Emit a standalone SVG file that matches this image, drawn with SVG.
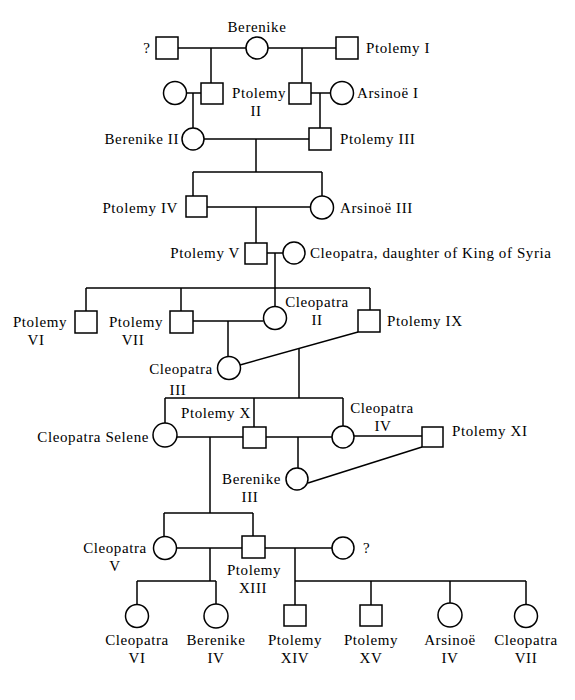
<svg xmlns="http://www.w3.org/2000/svg" width="575" height="700" viewBox="0 0 575 700">
<style>
.n{fill:#fff;stroke:#000;stroke-width:1.5}
.c line{stroke:#000;stroke-width:1.5}
text{font-family:"Liberation Serif","Times New Roman",serif;font-size:15px;fill:#000;letter-spacing:0.6px}
.m{text-anchor:middle}
.e{text-anchor:end}
</style>
<rect width="575" height="700" fill="#fff"/>
<g id="connectors" class="c">
<line x1="178" y1="48" x2="246" y2="48"/>
<line x1="268" y1="48" x2="336" y2="48"/>
<line x1="211" y1="48" x2="211" y2="83"/>
<line x1="302" y1="48" x2="302" y2="83"/>
<line x1="186.5" y1="93" x2="201" y2="93"/>
<line x1="193" y1="93" x2="193" y2="128"/>
<line x1="311" y1="93" x2="330.5" y2="93"/>
<line x1="320" y1="93" x2="320" y2="128"/>
<line x1="204" y1="139" x2="309" y2="139"/>
<line x1="256" y1="139" x2="256" y2="172"/>
<line x1="193" y1="172" x2="322" y2="172"/>
<line x1="193" y1="172" x2="193" y2="196"/>
<line x1="322" y1="172" x2="322" y2="196"/>
<line x1="207" y1="207" x2="310.5" y2="207"/>
<line x1="256" y1="207" x2="256" y2="243"/>
<line x1="267" y1="253" x2="283" y2="253"/>
<line x1="275" y1="253" x2="275" y2="306.5"/>
<line x1="86" y1="288" x2="370" y2="288"/>
<line x1="86" y1="288" x2="86" y2="311"/>
<line x1="181" y1="288" x2="181" y2="311"/>
<line x1="370" y1="288" x2="370" y2="310"/>
<line x1="193" y1="321" x2="263.5" y2="321"/>
<line x1="228" y1="321" x2="228" y2="356.5"/>
<line x1="240" y1="365" x2="358" y2="332"/>
<line x1="299" y1="349" x2="299" y2="398"/>
<line x1="165" y1="398" x2="343" y2="398"/>
<line x1="165" y1="398" x2="165" y2="423"/>
<line x1="254" y1="398" x2="254" y2="427"/>
<line x1="343" y1="398" x2="343" y2="426"/>
<line x1="177" y1="437" x2="243" y2="437"/>
<line x1="210" y1="437" x2="210" y2="513"/>
<line x1="266" y1="437" x2="332" y2="437"/>
<line x1="298" y1="437" x2="298" y2="468"/>
<line x1="354" y1="436" x2="422" y2="436"/>
<line x1="308" y1="483" x2="422" y2="447"/>
<line x1="164" y1="513" x2="253" y2="513"/>
<line x1="164" y1="513" x2="164" y2="536.5"/>
<line x1="253" y1="513" x2="253" y2="536"/>
<line x1="176.5" y1="548" x2="242" y2="548"/>
<line x1="210" y1="548" x2="210" y2="581"/>
<line x1="137" y1="581" x2="216" y2="581"/>
<line x1="137" y1="581" x2="137" y2="604.5"/>
<line x1="216" y1="581" x2="216" y2="604"/>
<line x1="265" y1="548" x2="332" y2="548"/>
<line x1="295" y1="548" x2="295" y2="581"/>
<line x1="295" y1="581" x2="526" y2="581"/>
<line x1="295" y1="581" x2="295" y2="605"/>
<line x1="371" y1="581" x2="371" y2="605"/>
<line x1="450" y1="581" x2="450" y2="603"/>
<line x1="526" y1="581" x2="526" y2="604.5"/>
</g>
<g id="unknown1"><rect class="n" x="156" y="37" width="22" height="22"/><text x="147" y="53" class="m">?</text></g>
<g id="berenike1"><circle class="n" cx="257" cy="48" r="11"/><text x="257" y="32" class="m">Berenike</text></g>
<g id="ptolemy1"><rect class="n" x="336" y="37" width="22" height="22"/><text x="366" y="53">Ptolemy I</text></g>
<g id="wife-left"><circle class="n" cx="175" cy="93" r="11.5"/></g>
<g id="son-left"><rect class="n" x="201" y="83" width="22" height="21"/></g>
<g id="ptolemy2"><rect class="n" x="289" y="83" width="22" height="21"/><text x="232" y="98">Ptolemy</text><text x="256" y="116" class="m">II</text></g>
<g id="arsinoe1"><circle class="n" cx="342" cy="93" r="11.5"/><text x="357" y="98">Arsinoë I</text></g>
<g id="berenike2"><circle class="n" cx="193" cy="139" r="11"/><text x="179" y="144" class="e">Berenike II</text></g>
<g id="ptolemy3"><rect class="n" x="309" y="128" width="22" height="22"/><text x="340" y="144">Ptolemy III</text></g>
<g id="ptolemy4"><rect class="n" x="186" y="196" width="21" height="21"/><text x="178" y="213" class="e">Ptolemy IV</text></g>
<g id="arsinoe3"><circle class="n" cx="322" cy="207.5" r="11.5"/><text x="340" y="213">Arsinoë III</text></g>
<g id="ptolemy5"><rect class="n" x="245" y="243" width="22" height="21"/><text x="240" y="258" class="e">Ptolemy V</text></g>
<g id="cleopatra1"><circle class="n" cx="294" cy="253" r="11"/><text x="310" y="258">Cleopatra, daughter of King of Syria</text></g>
<g id="ptolemy6"><rect class="n" x="75" y="311" width="22" height="22"/><text x="40" y="327" class="m">Ptolemy</text><text x="36" y="345" class="m">VI</text></g>
<g id="ptolemy7"><rect class="n" x="170" y="311" width="23" height="22"/><text x="136" y="327" class="m">Ptolemy</text><text x="133" y="345" class="m">VII</text></g>
<g id="cleopatra2"><circle class="n" cx="275" cy="318" r="11.5"/><text x="317" y="307" class="m">Cleopatra</text><text x="317" y="325" class="m">II</text></g>
<g id="ptolemy9"><rect class="n" x="358" y="310" width="22" height="22"/><text x="387" y="326">Ptolemy IX</text></g>
<g id="cleopatra3"><circle class="n" cx="229" cy="368" r="11.5"/><text x="181" y="374" class="m">Cleopatra</text><text x="178" y="395" class="m">III</text></g>
<g id="cleopatra-selene"><circle class="n" cx="165" cy="435" r="12"/><text x="149" y="442" class="e">Cleopatra Selene</text></g>
<g id="ptolemy10"><rect class="n" x="243" y="427" width="23" height="21"/><text x="251" y="418" class="e">Ptolemy X</text></g>
<g id="cleopatra4"><circle class="n" cx="343" cy="437" r="11"/><text x="382" y="413" class="m">Cleopatra</text><text x="383" y="431" class="m">IV</text></g>
<g id="ptolemy11"><rect class="n" x="422" y="427" width="21" height="20"/><text x="452" y="436">Ptolemy XI</text></g>
<g id="berenike3"><circle class="n" cx="297" cy="479" r="11"/><text x="281" y="484" class="e">Berenike</text><text x="250" y="502" class="m">III</text></g>
<g id="cleopatra5"><circle class="n" cx="165" cy="548" r="11.5"/><text x="115" y="553" class="m">Cleopatra</text><text x="115" y="571" class="m">V</text></g>
<g id="ptolemy13"><rect class="n" x="242" y="536" width="23" height="22"/><text x="254" y="575" class="m">Ptolemy</text><text x="253" y="593" class="m">XIII</text></g>
<g id="unknown2"><circle class="n" cx="343" cy="548" r="11"/><text x="363" y="553">?</text></g>
<g id="cleopatra6"><circle class="n" cx="137" cy="616" r="11.5"/><text x="137" y="645" class="m">Cleopatra</text><text x="137" y="663" class="m">VI</text></g>
<g id="berenike4"><circle class="n" cx="216" cy="616" r="12"/><text x="216" y="645" class="m">Berenike</text><text x="216" y="663" class="m">IV</text></g>
<g id="ptolemy14"><rect class="n" x="284" y="605" width="22" height="21"/><text x="295" y="645" class="m">Ptolemy</text><text x="295" y="663" class="m">XIV</text></g>
<g id="ptolemy15"><rect class="n" x="360" y="605" width="22" height="21"/><text x="371" y="645" class="m">Ptolemy</text><text x="371" y="663" class="m">XV</text></g>
<g id="arsinoe4"><circle class="n" cx="450" cy="615" r="12"/><text x="450" y="645" class="m">Arsinoë</text><text x="450" y="663" class="m">IV</text></g>
<g id="cleopatra7"><circle class="n" cx="526" cy="616" r="11.5"/><text x="526" y="645" class="m">Cleopatra</text><text x="526" y="663" class="m">VII</text></g>
</svg>
